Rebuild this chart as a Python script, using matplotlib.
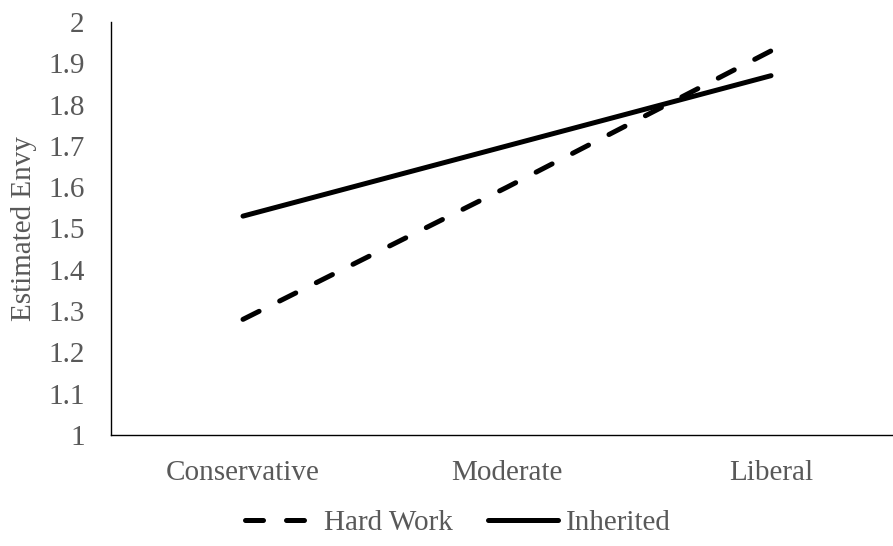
import matplotlib
matplotlib.use("Agg")
import matplotlib.pyplot as plt

# === Data ===
categories = ["Conservative", "Moderate", "Liberal"]
hard_work = [1.28, 1.60, 1.93]
inherited = [1.53, 1.70, 1.87]
y_ticks = [1, 1.1, 1.2, 1.3, 1.4, 1.5, 1.6, 1.7, 1.8, 1.9, 2]
y_tick_labels = ["1", "1.1", "1.2", "1.3", "1.4", "1.5", "1.6", "1.7", "1.8", "1.9", "2"]

plt.rcParams["font.family"] = ["Liberation Serif", "DejaVu Serif"]
gray = "#595959"
fs = 21

fig = plt.figure(figsize=(8.93, 5.46), dpi=100)
ax = fig.add_axes([111 / 893, 111 / 546, 792 / 893, 413 / 546])

x = range(len(categories))
ax.plot(x, hard_work, color="black", lw=3.6, linestyle=(0, (3.6, 4.6)),
        dash_capstyle="round", solid_capstyle="round", label="Hard Work")
ax.plot(x, inherited, color="black", lw=3.6, solid_capstyle="round", label="Inherited")

ax.set_xlim(-0.5, 2.5)
ax.set_ylim(1, 2)
ax.set_xticks(list(x))
ax.set_xticklabels(categories)
ax.set_yticks(y_ticks)
ax.set_yticklabels(y_tick_labels)
ax.tick_params(axis="both", length=0, labelsize=fs, labelcolor=gray)
ax.tick_params(axis="y", pad=19)
ax.tick_params(axis="x", pad=18)

for side in ["top", "right"]:
    ax.spines[side].set_visible(False)
for side in ["left", "bottom"]:
    ax.spines[side].set_linewidth(1.0)
    ax.spines[side].set_color("black")

ax.set_ylabel("Estimated Envy", fontsize=fs, color=gray, labelpad=8)

leg = fig.legend(loc="lower center", bbox_to_anchor=(0.513, -0.03), ncol=2,
                 frameon=False, fontsize=fs, handlelength=2.4,
                 handletextpad=0.3, columnspacing=1.2)
for t in leg.get_texts():
    t.set_color(gray)

fig.savefig("out.png", dpi=100)
